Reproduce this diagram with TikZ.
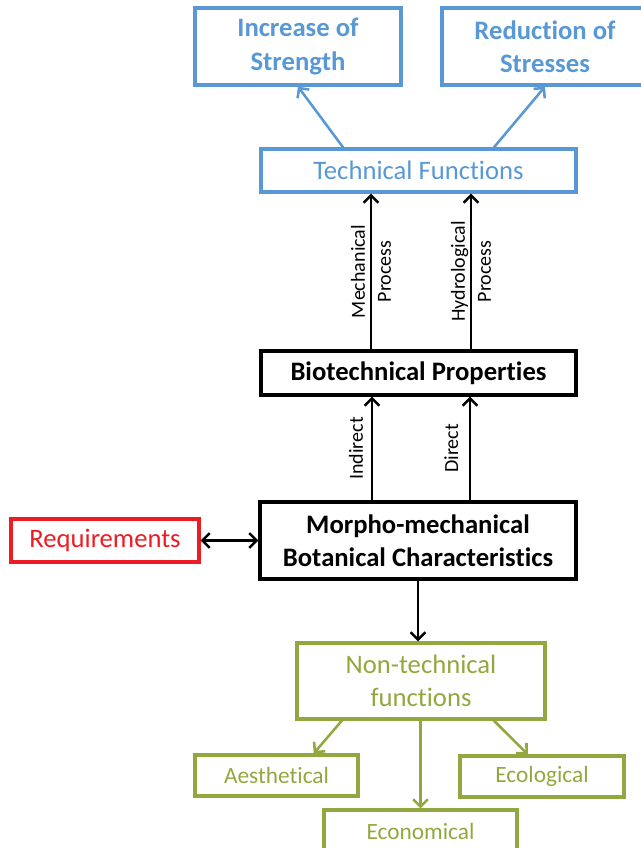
\documentclass[tikz,border=0pt]{standalone}
\usepackage{fontspec}
\setmainfont{Carlito}[Ligatures=NoCommon]
\usetikzlibrary{arrows.meta,calc}

\definecolor{techblue}{RGB}{88,152,212}
\definecolor{olivegreen}{RGB}{145,168,62}
\definecolor{reqred}{RGB}{237,28,36}

\begin{document}
\begin{tikzpicture}[x=0.75pt,y=-0.75pt,
  box/.style={draw, rectangle, line width=2.4pt, inner sep=0pt, align=center,
    font=\fontsize{20pt}{24.75pt}\selectfont},
  bluebox/.style={box, draw=techblue, text=techblue},
  blackbox/.style={box, draw=black, text=black},
  greenbox/.style={box, draw=olivegreen, text=olivegreen},
  tip/.tip={Straight Barb[length=5.5pt,width=11pt,line width=1.9pt]},
  arr/.style={line width=1.9pt, -tip},
  dblarr/.style={line width=1.9pt, tip-tip},
  bluearr/.style={arr, draw=techblue},
  greenarr/.style={arr, draw=olivegreen},
  lbl/.style={align=center, inner sep=0pt, font=\fontsize{15pt}{19.5pt}\selectfont}
]
\useasboundingbox (0,0) rectangle (640,848);

% technical branch
\node[bluebox, minimum width=154.5pt, minimum height=57.75pt] (inc) at (298,46.5)
  {\bfseries Increase of\\\bfseries Strength};
\node[bluebox, minimum width=154.5pt, minimum height=57.75pt] (red) at (545,46.5)
  {\bfseries Reduction of\\\bfseries Stresses};
\node[bluebox, minimum width=236.25pt, minimum height=32.25pt] (tf) at (418.5,170.5)
  {Technical Functions};

% core chain
\node[blackbox, minimum width=236.25pt, minimum height=33pt] (bp) at (418.5,373)
  {\bfseries Biotechnical Properties};
\node[blackbox, minimum width=237pt, minimum height=57.75pt] (mm) at (418,540.5)
  {\bfseries Morpho-mechanical\\\bfseries Botanical Characteristics};
\node[box, draw=reqred, text=reqred, minimum width=141pt, minimum height=32.25pt] (req) at (105,540.5)
  {Requirements};

% non-technical branch
\node[greenbox, minimum width=186pt, minimum height=57pt] (nt) at (421,681)
  {Non-technical\\functions};
\node[greenbox, font=\fontsize{17.5pt}{21pt}\selectfont, minimum width=122.25pt, minimum height=30.75pt] (aes) at (276.5,775.5)
  {Aesthetical};
\node[greenbox, font=\fontsize{17.5pt}{21pt}\selectfont, minimum width=123pt, minimum height=30.75pt] (eco) at (542,776.5)
  {Ecological};
\node[greenbox, font=\fontsize{17.5pt}{21pt}\selectfont, minimum width=144.75pt, minimum height=31.5pt] (econ) at (420.5,831)
  {Economical};

% vertical guide positions for the process arrows
\coordinate (xa) at (371,0);
\coordinate (xb) at (471,0);
\coordinate (xc) at (372,0);
\coordinate (xd) at (470,0);

% technical functions to targets
\draw[bluearr] ($(tf.north west)!0.263!(tf.north east)$) -- (inc.south);
\draw[bluearr] ($(tf.north west)!0.737!(tf.north east)$) -- (red.south);

% processes
\draw[arr] (bp.north -| xa) -- node[lbl, midway, rotate=90] (lmech) {Mechanical\\Process} (tf.south -| xa);
\draw[arr] (bp.north -| xb) -- node[lbl, midway, rotate=90] (lhyd) {Hydrological\\Process} (tf.south -| xb);
\draw[arr] (mm.north -| xc) -- node[lbl, midway, xshift=-12pt, rotate=90] (lind) {Indirect} (bp.south -| xc);
\draw[arr] (mm.north -| xd) -- node[lbl, midway, xshift=-14pt, rotate=90] (ldir) {Direct} (bp.south -| xd);

% requirements link and downward branch
\draw[dblarr] (req.east) -- (mm.west);
\draw[arr] (mm.south) -- (mm.south |- nt.north);

\draw[greenarr] ($(nt.south west)!0.185!(nt.south east)$) -- ($(aes.north west)!0.724!(aes.north east)$);
\draw[greenarr] (nt.south -| econ.north) -- (econ.north);
\draw[greenarr] ($(nt.south west)!0.79!(nt.south east)$) -- ($(eco.north west)!0.415!(eco.north east)$);
\end{tikzpicture}
\end{document}
